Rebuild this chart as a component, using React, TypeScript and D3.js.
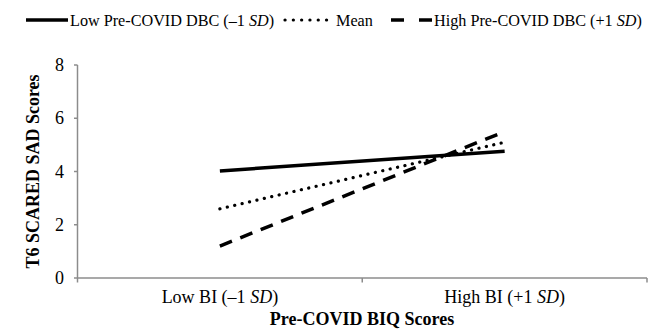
import React from "react";
import * as d3 from "d3";

const categories = ["Low BI (\u20131 SD)", "High BI (+1 SD)"];
const categoryMain = ["Low BI (\u20131 ", "High BI (+1 "];
const seriesNames = ["Low Pre-COVID DBC (\u20131 SD)", "Mean", "High Pre-COVID DBC (+1 SD)"];
const lowDBC = [4.02, 4.76];
const meanDBC = [2.6, 5.1];
const highDBC = [1.2, 5.5];
const yTicks = [0, 2, 4, 6, 8];

const W = 667;
const H = 333;
const FONT = "Liberation Serif";

export default function App() {
  const left = 77.5;
  const right = 647;
  const top = 65;
  const bottom = 278;
  const x = d3.scaleBand<string>().domain(categories).range([left, right]);
  const y = d3.scaleLinear().domain([0, 8]).range([bottom, top]);
  const line = d3
    .line<number>()
    .x((_, i) => (x(categories[i]) as number) + x.bandwidth() / 2)
    .y((d) => y(d));

  const series = [
    { values: lowDBC, dash: undefined as string | undefined, cap: "butt", w: 3.5 },
    { values: meanDBC, dash: "0.1,7.5", cap: "round", w: 3.2 },
    { values: highDBC, dash: "13,9", cap: "butt", w: 3.5 },
  ];

  const xTickPos = [left, left + x.bandwidth(), right];
  const ly = 20;

  return (
    <svg width={W} height={H} style={{ position: "absolute", left: 0, top: 0, background: "#fff" }}>
      {/* Legend */}
      <g fontFamily={FONT} fontSize={16.2} fill="#000">
        <line x1={26} x2={68} y1={ly} y2={ly} stroke="#000" strokeWidth={3.5} />
        <text x={70} y={ly + 5.5}>
          Low Pre-COVID DBC (–1 <tspan fontStyle="italic">SD</tspan>)
        </text>
        <line x1={285} x2={334} y1={ly} y2={ly} stroke="#000" strokeWidth={3.2} strokeDasharray="0.1,8.2" strokeLinecap="round" />
        <text x={336} y={ly + 5.5}>{seriesNames[1]}</text>
        <line x1={391} x2={433} y1={ly} y2={ly} stroke="#000" strokeWidth={3.5} strokeDasharray="13,15" />
        <text x={434} y={ly + 5.5}>
          High Pre-COVID DBC (+1 <tspan fontStyle="italic">SD</tspan>)
        </text>
      </g>

      {/* Axes */}
      <g stroke="#8c8c8c" strokeWidth={1.5}>
        <line x1={left} x2={left} y1={top} y2={bottom} />
        <line x1={left} x2={right} y1={bottom} y2={bottom} />
        {yTicks.map((t) => (
          <line key={t} x1={left - 3.5} x2={left} y1={y(t)} y2={y(t)} />
        ))}
        {xTickPos.map((p, i) => (
          <line key={i} x1={p} x2={p} y1={bottom} y2={bottom + 4.5} />
        ))}
      </g>

      <g fontFamily={FONT} fontSize={18} fill="#000">
        {yTicks.map((t) => (
          <text key={t} x={64} y={y(t) + 6} textAnchor="end">
            {t}
          </text>
        ))}
        {categories.map((c, i) => (
          <text key={c} x={(x(c) as number) + x.bandwidth() / 2} y={303} textAnchor="middle">
            {categoryMain[i]}
            <tspan fontStyle="italic">SD</tspan>)
          </text>
        ))}
        <text x={362} y={325} textAnchor="middle" fontWeight="bold">
          Pre-COVID BIQ Scores
        </text>
        <text
          transform={`translate(39, ${(top + bottom) / 2}) rotate(-90)`}
          textAnchor="middle"
          fontWeight="bold"
        >
          T6 SCARED SAD Scores
        </text>
      </g>

      {/* Lines */}
      {series.map((s, i) => (
        <path
          key={i}
          d={line(s.values) as string}
          fill="none"
          stroke="#000"
          strokeWidth={s.w}
          strokeDasharray={s.dash}
          strokeLinecap={s.cap as any}
        />
      ))}
    </svg>
  );
}
